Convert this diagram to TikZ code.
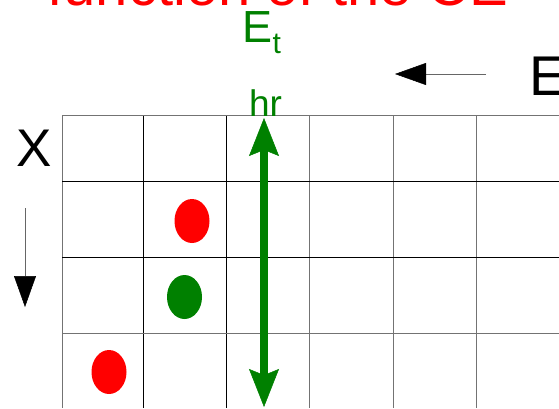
\documentclass[tikz,border=0pt]{standalone}
\usepackage{fontspec}
\setmainfont{Liberation Sans}
\usepackage{xcolor}
\usetikzlibrary{arrows.meta,shapes.geometric}
\definecolor{fieldgreen}{RGB}{0,128,0}
\definecolor{dotred}{RGB}{255,0,0}

\begin{document}
\begin{tikzpicture}[x=1pt,y=-1pt,
 lbl/.style={inner sep=0pt,anchor=base},
 gridline/.style={draw=black!55,line width=1pt},
 gridbold/.style={draw=black,line width=1pt},
 dot/.style={ellipse,minimum width=35pt,minimum height=44pt,inner sep=0pt},
 arr/.style={-{Triangle[length=31pt,width=22pt,color=black,line width=0.5pt]},draw=black!60,line width=1pt},
 fieldarr/.style={{Stealth[length=38pt,width=30pt,inset=6pt,line width=0.5pt]}-{Stealth[length=38pt,width=30pt,inset=6pt,line width=0.5pt]},draw=fieldgreen,line width=7.5pt}]
\useasboundingbox (0,0) rectangle (559,408);
\foreach \x in {62,309,393,476} \draw[gridline] (\x,115) -- (\x,408);
\foreach \x in {143,226} \draw[gridbold] (\x,115) -- (\x,408);
\foreach \y in {115,333} \draw[gridline] (62,\y) -- (559,\y);
\foreach \y in {181,257} \draw[gridbold] (62,\y) -- (559,\y);
\node[dot,fill=dotred] (redtop) at (192,221) {};
\node[dot,fill=fieldgreen] (greendot) at (184.5,297) {};
\node[dot,fill=dotred] (redbottom) at (109,372) {};
\coordinate (fieldtop) at (264,118);
\coordinate (fieldbottom) at (264,407);
\draw[fieldarr] (fieldtop) -- (fieldbottom);
\node[lbl,text=dotred,font=\fontsize{58}{60}\selectfont] (title) at (278,5) {function of the CE};
\node[lbl,anchor=base west,text=fieldgreen,font=\fontsize{45}{48}\selectfont] (field) at (242.5,42) {E\raisebox{-11pt}{\fontsize{30}{30}\selectfont t}};
\node[lbl,text=fieldgreen,font=\fontsize{37}{40}\selectfont] (hrlabel) at (265.5,116) {hr};
\node[lbl,font=\fontsize{53}{56}\selectfont] (xlabel) at (34,166) {X};
\node[lbl,anchor=base west,font=\fontsize{56}{60}\selectfont] (elabel) at (529.6,95) {E};
\coordinate (estart) at (486,74);
\coordinate (eend) at (395,74);
\coordinate (xstart) at (25,208);
\coordinate (xend) at (25,307);
\draw[arr] (estart) -- (eend);
\draw[arr] (xstart) -- (xend);
\end{tikzpicture}
\end{document}
